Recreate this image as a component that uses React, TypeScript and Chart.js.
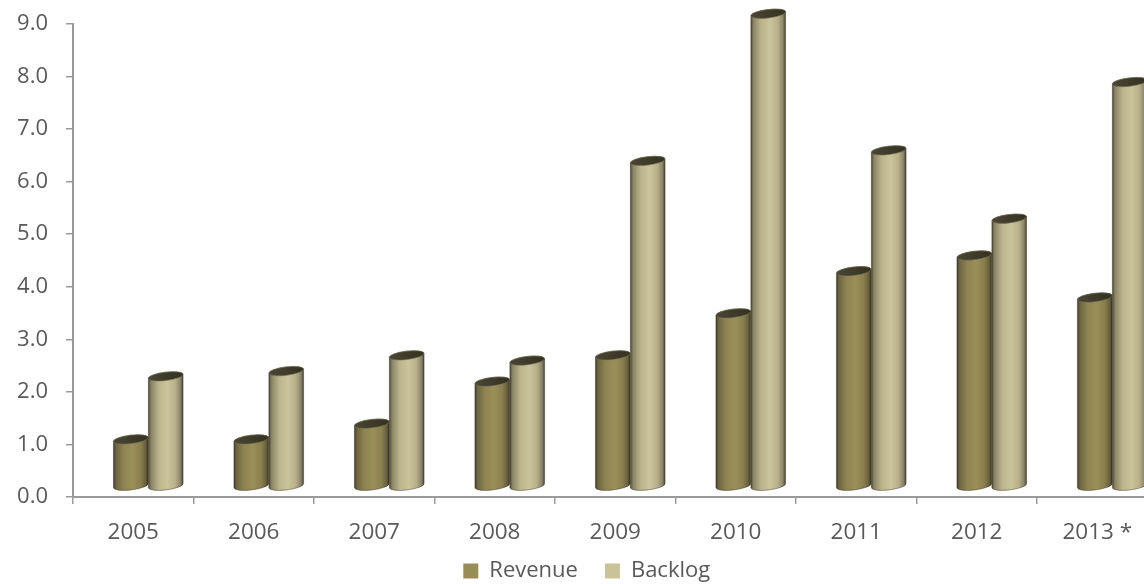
import React, { useEffect, useRef } from "react";
import { Chart, registerables } from "chart.js";

Chart.register(...registerables);

const categories = ["2005", "2006", "2007", "2008", "2009", "2010", "2011", "2012", "2013 *"];
const revenue = [1.0, 1.0, 1.3, 2.1, 2.6, 3.4, 4.2, 4.5, 3.7];
const backlog = [2.2, 2.3, 2.6, 2.5, 6.3, 9.1, 6.5, 5.2, 7.8];
const seriesNames = ["Revenue", "Backlog"];
const yMin = 0;
const yMax = 9;
const yStep = 1;

const legendColors = ["#998d57", "#cbc398"];
const sideStops: [number, string][][] = [
  [
    [0, "#3f3b27"],
    [0.08, "#6f6641"],
    [0.3, "#8f8452"],
    [0.55, "#9b8f59"],
    [0.78, "#8a7f4e"],
    [0.92, "#6a6240"],
    [1, "#3a3624"],
  ],
  [
    [0, "#4a4633"],
    [0.08, "#8a8466"],
    [0.3, "#bcb48c"],
    [0.55, "#cbc49b"],
    [0.78, "#b6af89"],
    [0.92, "#8a846a"],
    [1, "#454231"],
  ],
];
const capColor = "#3e3b2b";

const cylinderPlugin = {
  id: "cylinders",
  beforeDatasetDraw() {
    return false;
  },
  afterDatasetsDraw(chart: any) {
    const ctx = chart.ctx;
    const dx = 15;
    const topShift = 5;
    const bottomLift = 10.5;
    const ry = 4.2;
    const rot = -0.12;
    chart.data.datasets.forEach((_ds: any, di: number) => {
      const meta = chart.getDatasetMeta(di);
      meta.data.forEach((el: any) => {
        const w = el.width;
        const cx = el.x + dx;
        const rx = w / 2;
        const x0 = cx - rx;
        const x1 = cx + rx;
        const yT = el.y - topShift;
        const yB = el.base - bottomLift;
        ctx.save();
        const g = ctx.createLinearGradient(x0, 0, x1, 0);
        sideStops[di].forEach(([o, c]) => g.addColorStop(o, c));
        ctx.beginPath();
        ctx.ellipse(cx, yB, rx, ry, rot, 0, Math.PI, false);
        ctx.ellipse(cx, yT, rx, ry, rot, Math.PI, 2 * Math.PI, false);
        ctx.closePath();
        ctx.fillStyle = g;
        ctx.fill();
        ctx.lineWidth = 0.8;
        ctx.strokeStyle = "rgba(50,47,32,0.55)";
        ctx.stroke();
        const cg = ctx.createLinearGradient(x0, 0, x1, 0);
        cg.addColorStop(0, "#4a4634");
        cg.addColorStop(0.5, capColor);
        cg.addColorStop(1, "#34311f");
        ctx.beginPath();
        ctx.ellipse(cx, yT, rx, ry, rot, 0, 2 * Math.PI, false);
        ctx.fillStyle = cg;
        ctx.fill();
        ctx.lineWidth = 0.8;
        ctx.strokeStyle = "rgba(120,115,90,0.7)";
        ctx.stroke();
        ctx.restore();
      });
    });
  },
};

const legendShiftPlugin = {
  id: "legendShift",
  afterLayout(chart: any) {
    const l = chart.legend;
    if (l) {
      l.top -= 9;
      l.bottom -= 9;
    }
  },
};

export default function App() {
  const ref = useRef<HTMLCanvasElement | null>(null);
  useEffect(() => {
    if (!ref.current) return;
    const axisColor = "#9a9a9a";
    const textColor = "#595959";
    const chart = new Chart(ref.current, {
      type: "bar",
      data: {
        labels: categories,
        datasets: [
          {
            label: seriesNames[0],
            data: revenue,
            backgroundColor: legendColors[0],
            borderWidth: 0,
            categoryPercentage: 0.58,
            barPercentage: 1.0,
          },
          {
            label: seriesNames[1],
            data: backlog,
            backgroundColor: legendColors[1],
            borderWidth: 0,
            categoryPercentage: 0.58,
            barPercentage: 1.0,
          },
        ],
      },
      options: {
        responsive: false,
        animation: false,
        devicePixelRatio: 1,
        layout: { padding: { left: 16, right: 2.5, top: 24, bottom: 0 } },
        plugins: {
          tooltip: { enabled: false },
          legend: {
            display: true,
            position: "bottom",
            labels: {
              boxWidth: 15,
              boxHeight: 15,
              padding: 27,
              color: textColor,
              font: { family: "'Open Sans'", size: 22 },
            },
          },
        },
        scales: {
          x: {
            afterFit: (s: any) => {
              s.height = 45;
            },
            grid: {
              display: true,
              offset: true,
              drawOnChartArea: false,
              drawTicks: true,
              tickLength: 7,
              color: axisColor,
              lineWidth: 1.5,
            },
            border: { display: true, color: axisColor, width: 2 },
            ticks: {
              color: textColor,
              padding: 15,
              maxRotation: 0,
              autoSkip: false,
              font: { family: "'Open Sans'", size: 22.5 },
            },
          },
          y: {
            min: yMin,
            max: yMax,
            afterFit: (s: any) => {
              s.width = 57;
              s.paddingTop = 0;
              s.paddingBottom = 0;
            },
            grid: {
              display: true,
              drawOnChartArea: false,
              drawTicks: true,
              tickLength: 7,
              color: axisColor,
              lineWidth: 1.5,
            },
            border: { display: true, color: axisColor, width: 2 },
            ticks: {
              stepSize: yStep,
              color: textColor,
              padding: 18,
              font: { family: "'Open Sans'", size: 22 },
              callback: (v: any) => Number(v).toFixed(1),
            },
          },
        },
      },
      plugins: [cylinderPlugin, legendShiftPlugin],
    });
    return () => chart.destroy();
  }, []);
  return (
    <div
      style={{
        position: "fixed",
        left: 0,
        top: 0,
        width: 1144,
        height: 584,
        overflow: "hidden",
        background: "#ffffff",
      }}
    >
      <canvas ref={ref} width={1160} height={601} style={{ display: "block" }} />
    </div>
  );
}
